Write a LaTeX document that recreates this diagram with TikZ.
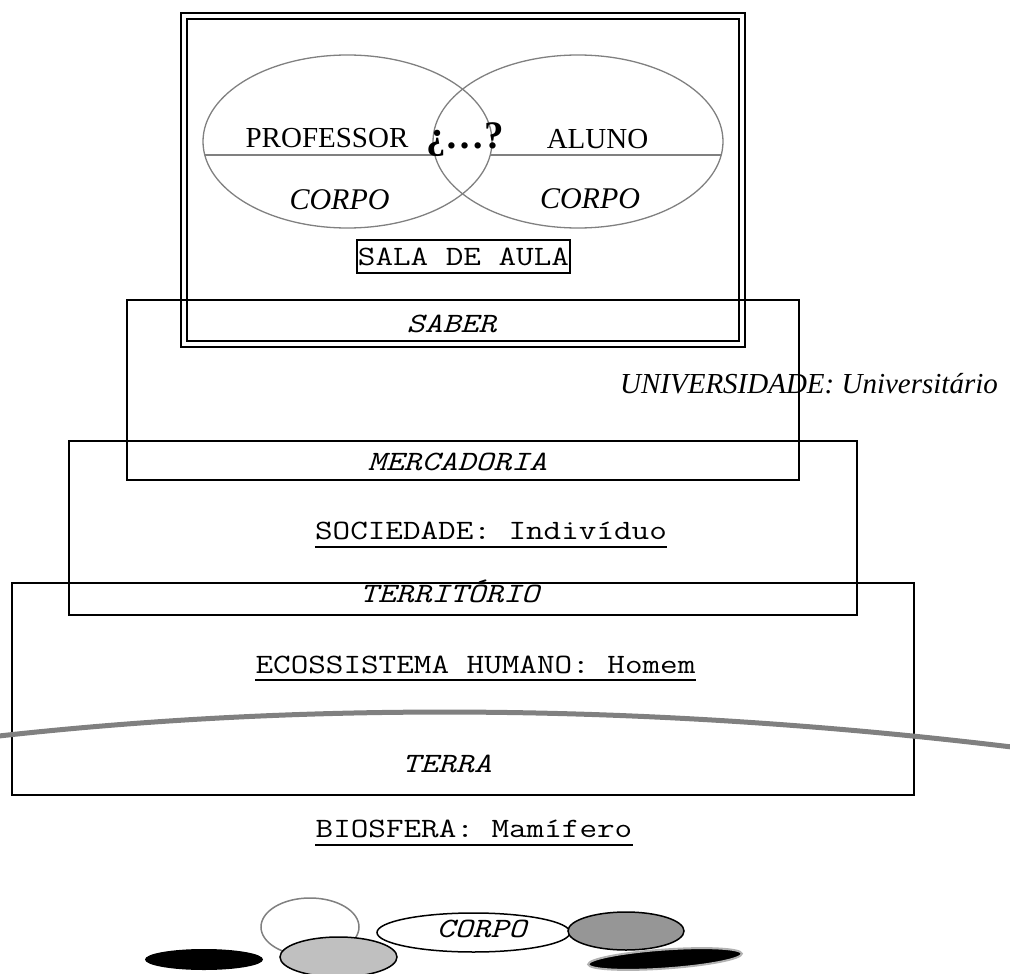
\documentclass[tikz,border=0pt]{standalone}
\usepackage{fontspec}
\setmainfont{Liberation Serif}
\setmonofont[FakeStretch=1.22]{Latin Modern Mono}
\definecolor{lgray}{HTML}{C0C0C0}
\definecolor{dgray}{HTML}{969696}
\definecolor{midgray}{HTML}{808080}
\newcommand{\szSerif}{\fontsize{29}{34}\selectfont}
\newcommand{\szMono}{\fontsize{28}{34}\selectfont\ttfamily}
\begin{document}
\begin{tikzpicture}[x=1pt,y=-1pt,
  boxline/.style={draw=black,line width=1.8pt},
  venn/.style={draw=midgray,line width=1.3pt},
  lbl/.style={inner sep=0pt,anchor=base},
  serif/.style={lbl,font=\szSerif},
  mono/.style={lbl,font=\szMono},
  monoit/.style={lbl,font=\szMono\itshape},
  uline/.style={draw=black,line width=1.8pt},
  blob/.style={draw=black,line width=1.5pt}]
\useasboundingbox (0,0) rectangle (1010,974);

% double frame (sala de aula)
\draw[line width=2pt] (181,13) rectangle (745,347);
\draw[line width=2pt] (187,19) rectangle (739,341);

% nested boxes
\draw[boxline] (127,300) rectangle (799,480);
\draw[boxline] (69,441) rectangle (857,615);
\draw[boxline] (12,583) rectangle (914,795);

% venn ellipses
\draw[venn] (347.5,141.5) ellipse [x radius=144.5pt, y radius=86.5pt];
\draw[venn] (578,141.5) ellipse [x radius=145pt, y radius=86.5pt];
\draw[venn] (204.8,155) -- (434.8,155);
\draw[venn] (490.2,155) -- (721.2,155);

\node[serif] (prof) at (327,147) {PROFESSOR};
\node[lbl,font=\fontsize{39}{40}\selectfont\bfseries] (q) at (465,148) {¿…?};
\node[serif] (aluno) at (597.5,148) {ALUNO};
\node[lbl,font=\fontsize{30}{34}\selectfont\itshape] (corpo1) at (339.5,209) {CORPO};
\node[lbl,font=\fontsize{30}{34}\selectfont\itshape] (corpo2) at (590,208) {CORPO};
\node[draw=black,line width=1.5pt,inner sep=0pt,minimum width=213pt,minimum height=33pt,font=\szMono] (sala) at (463.5,256.5) {SALA DE AULA};

\node[monoit] (saber) at (451.5,332) {SABER};
\node[serif,font=\szSerif\itshape] (univ) at (809,393) {UNIVERSIDADE: Universitário};
\node[monoit] (merc) at (457.5,470) {MERCADORIA};
\node[mono] (soc) at (491,539) {SOCIEDADE: Indivíduo};
\draw[uline] ([yshift=-8pt]soc.base west) -- ([yshift=-8pt]soc.base east);
\node[monoit] (terr) at (449.5,602) {TERRITÓRIO};
\node[mono] (eco) at (475.5,673) {ECOSSISTEMA HUMANO: Homem};
\draw[uline] ([yshift=-7pt]eco.base west) -- ([yshift=-7pt]eco.base east);

% earth curve
\draw[draw=midgray,line width=5pt] (-10,737) .. controls (330,698.5) and (680,706.4) .. (1020,748);

\node[monoit] (terra) at (447,772) {TERRA};
\node[mono] (bio) at (474,837) {BIOSFERA: Mamífero};
\draw[uline] ([yshift=-8pt]bio.base west) -- ([yshift=-8pt]bio.base east);

% body blobs
\fill[black] (204,959.5) ellipse [x radius=59pt, y radius=10.5pt];
\draw[draw=midgray,line width=1.5pt,fill=white] (310,927) ellipse [x radius=49pt, y radius=29pt];
\draw[blob,fill=lgray] (338.5,957) ellipse [x radius=58.5pt, y radius=20pt];
\draw[blob,fill=white] (473.5,932.5) ellipse [x radius=96.5pt, y radius=19.5pt];
\node[monoit] (corpo3) at (481.5,937) {CORPO};
\draw[blob,fill=dgray] (626,931) ellipse [x radius=58pt, y radius=19pt];
\draw[draw=gray!60,line width=2pt,fill=black,rotate around={4:(665,959)}] (665,959) ellipse [x radius=77pt, y radius=9.5pt];
\end{tikzpicture}
\end{document}
